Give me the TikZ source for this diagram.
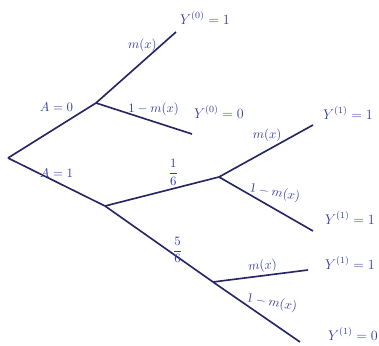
\documentclass[tikz,border=0pt]{standalone}
\usepackage{amsmath}
\usetikzlibrary{positioning}
\definecolor{ink}{RGB}{38,38,100}
\definecolor{pen}{RGB}{52,62,165}

\begin{document}
\begin{tikzpicture}[x=0.03cm, y=-0.03cm, line width=1.4pt, color=ink,
  lbl/.style={text=pen, font=\fontsize{11}{13}\selectfont, inner sep=1pt},
  leaf/.style={text=pen, font=\fontsize{11.5}{13}\selectfont, inner sep=0pt}]
  \useasboundingbox (0,0) rectangle (379,346);
  % branch points
  \coordinate (root) at (8,158);
  \coordinate (a0) at (96,103);
  \coordinate (a1) at (105,206);
  \coordinate (n1) at (219,177);
  \coordinate (n5) at (213,282);
  % loose ends
  \coordinate (e00) at (176,32);
  \coordinate (e01) at (192,134);
  \coordinate (e11) at (313,125);
  \coordinate (e12) at (313,231);
  \coordinate (e13) at (308,270);
  \coordinate (e14) at (300,342);
  % A = 0 / A = 1
  \draw (root) -- node[lbl, pos=.55, above=12pt] {$A=0$} (a0);
  \draw (root) -- node[lbl, pos=.5, above=2pt] {$A=1$} (a1);
  % untreated
  \draw (a0) -- node[lbl, pos=.55, xshift=2pt, yshift=16pt] {$m(x)$} (e00);
  \draw (a0) -- node[lbl, pos=.6, above=3pt] {$1-m(x)$} (e01);
  % treated, two arms
  \draw (a1) -- node[lbl, pos=.6, above=1pt] {$\displaystyle\frac{1}{6}$} (n1);
  \draw (a1) -- node[lbl, pos=.64, xshift=3pt, yshift=4pt] {$\displaystyle\frac{5}{6}$} (n5);
  \draw (n1) -- node[lbl, pos=.5, xshift=1pt, yshift=13pt] {$m(x)$} (e11);
  \draw (n1) -- node[lbl, pos=.58, rotate=-10, above=6pt] {$1-m(x)$} (e12);
  \draw (n5) -- node[lbl, pos=.53, rotate=6, above=1pt] {$m(x)$} (e13);
  \draw (n5) -- node[lbl, pos=.66, rotate=-10, above=9pt] {$1-m(x)$} (e14);
  % outcomes
  \node[leaf] (y1) at (205,18) {$Y^{(0)}=1$};
  \node[leaf] (y2) at (219,112) {$Y^{(0)}=0$};
  \node[leaf] (y3) at (348,113) {$Y^{(1)}=1$};
  \node[leaf] (y4) at (350,218) {$Y^{(1)}=1$};
  \node[leaf] (y5) at (350,263) {$Y^{(1)}=1$};
  \node[leaf] (y6) at (353,334) {$Y^{(1)}=0$};
\end{tikzpicture}
\end{document}
